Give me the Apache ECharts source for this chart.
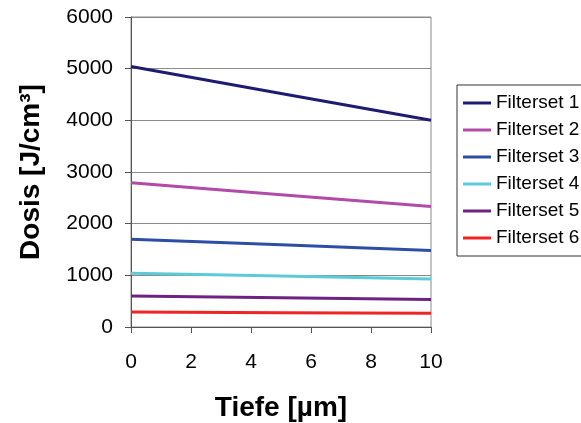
<!DOCTYPE html>
<html>
<head>
<meta charset="utf-8">
<script src="https://cdn.jsdelivr.net/npm/echarts@6/dist/echarts.min.js"></script>
<style>html,body{margin:0;padding:0;background:#fff;}#c{width:581px;height:423px;}</style>
</head>
<body>
<div id="c"></div>
<script>
var depth = [0, 5, 10];
var seriesNames = ['Filterset 1', 'Filterset 2', 'Filterset 3', 'Filterset 4', 'Filterset 5', 'Filterset 6'];
var filterset1 = [5040, 4520, 4000];
var filterset2 = [2790, 2560, 2330];
var filterset3 = [1700, 1590, 1480];
var filterset4 = [1040, 985, 930];
var filterset5 = [600, 565, 530];
var filterset6 = [290, 278, 268];
var seriesValues = [filterset1, filterset2, filterset3, filterset4, filterset5, filterset6];
var colors = ['#1c1c70', '#b24aa8', '#2e4ea6', '#5ccbd8', '#6e2282', '#f02424'];

var font = 'Liberation Sans, Arial, sans-serif';
var chart = echarts.init(document.getElementById('c'), null, {renderer: 'canvas'});
chart.setOption({
  animation: false,
  backgroundColor: '#ffffff',
  grid: {left: 131, right: 150, top: 17, bottom: 96, show: true, borderColor: '#8a8a8a', borderWidth: 1, outerBoundsMode: 'none', containLabel: false},
  legend: {
    left: 457, top: 85,
    orient: 'vertical',
    data: seriesNames.map(function (n) { return {name: n, icon: 'rect'}; }),
    itemWidth: 28, itemHeight: 3, itemGap: 7,
    padding: [8, 10, 8, 6],
    borderColor: '#333', borderWidth: 1,
    textStyle: {fontFamily: font, fontSize: 19, color: '#000', lineHeight: 20}
  },
  xAxis: {
    type: 'value', min: 0, max: 10, interval: 2,
    name: 'Tiefe [µm]', nameLocation: 'middle', nameGap: 67,
    nameTextStyle: {fontFamily: font, fontSize: 28, fontWeight: 'bold', color: '#000'},
    axisLine: {show: true, lineStyle: {color: '#555', width: 1}},
    axisTick: {show: true, inside: false, length: 6, lineStyle: {color: '#555'}},
    axisLabel: {fontFamily: font, fontSize: 21, color: '#000', margin: 25, formatter: function (v) { return String(v); }},
    splitLine: {show: false}
  },
  yAxis: {
    type: 'value', min: 0, max: 6000, interval: 1000,
    name: 'Dosis [J/cm³]', nameLocation: 'middle', nameGap: 86,
    nameTextStyle: {fontFamily: font, fontSize: 28, fontWeight: 'bold', color: '#000'},
    axisLine: {show: true, lineStyle: {color: '#555', width: 1}},
    axisTick: {show: true, inside: false, length: 6, lineStyle: {color: '#555'}},
    axisLabel: {fontFamily: font, fontSize: 21, color: '#000', margin: 18, formatter: function (v) { return String(v); }},
    splitLine: {show: true, lineStyle: {color: '#8a8a8a', width: 1}}
  },
  series: seriesNames.map(function (n, i) {
    return {
      name: n, type: 'line', symbol: 'none',
      data: depth.map(function (d, j) { return [d, seriesValues[i][j]]; }),
      lineStyle: {color: colors[i], width: 3},
      itemStyle: {color: colors[i]}
    };
  })
});
</script>
</body>
</html>
